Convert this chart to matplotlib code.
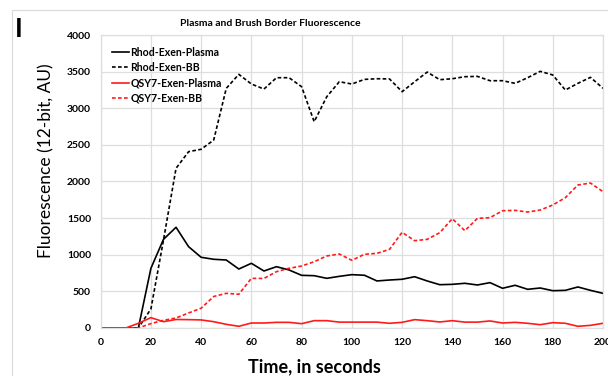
import matplotlib
matplotlib.use("Agg")
import matplotlib.pyplot as plt
from matplotlib.patches import Rectangle

# dane (co 5 s)
time_s = [0, 5, 10, 15, 20, 25, 30, 35, 40, 45, 50, 55, 60, 65, 70, 75, 80, 85, 90, 95,
          100, 105, 110, 115, 120, 125, 130, 135, 140, 145, 150, 155, 160, 165, 170, 175,
          180, 185, 190, 195, 200]

rhod_plasma = [0, 0, 0, 0, 815, 1210, 1375, 1110, 965, 938, 928, 805, 883, 778, 837, 792,
               719, 714, 678, 705, 728, 720, 642, 655, 665, 700, 642, 591, 596, 610, 587,
               619, 542, 583, 528, 546, 509, 514, 560, 514, 473]

rhod_bb = [0, 0, 0, 0, 260, 1200, 2180, 2407, 2440, 2566, 3272, 3463, 3331, 3262, 3417,
           3417, 3294, 2816, 3157, 3362, 3331, 3394, 3403, 3400, 3226, 3362, 3494, 3390,
           3403, 3431, 3435, 3376, 3376, 3340, 3417, 3504, 3454, 3249, 3340, 3422, 3272]

qsy_plasma = [0, 0, 0, 64, 141, 86, 116, 114, 110, 86, 50, 23, 68, 68, 77, 77, 59, 100,
              100, 80, 80, 80, 80, 64, 77, 114, 100, 82, 100, 80, 80, 96, 68, 77, 64, 45,
              73, 64, 23, 36, 64]

qsy_bb = [0, 0, 0, 0, 60, 105, 136, 205, 270, 430, 473, 460, 678, 676, 769, 815, 846, 905,
          983, 1010, 924, 1006, 1019, 1074, 1306, 1192, 1210, 1301, 1492, 1328, 1497, 1506,
          1601, 1606, 1583, 1610, 1679, 1779, 1952, 1979, 1861]

plt.rcParams["font.family"] = ["Lato", "DejaVu Sans"]

fig = plt.figure(figsize=(6.08, 3.76), dpi=100)
ax = fig.add_axes([0.1656, 0.1277, 0.8262, 0.7792])

# ramka obszaru wykresu (jak w Excelu)
fig.patches.append(Rectangle((12 / 608, -0.1), 1.2, 1.1 - 10 / 376,
                             transform=fig.transFigure, fill=False,
                             edgecolor="#d9d9d9", linewidth=0.8))

dash = (2.2, 1.4)
ax.plot(time_s, rhod_plasma, color="black", linewidth=1.2, label="Rhod-Exen-Plasma")
ax.plot(time_s, rhod_bb, color="black", linewidth=1.2, linestyle=(0, dash), label="Rhod-Exen-BB")
ax.plot(time_s, qsy_plasma, color="#ff1a1a", linewidth=1.2, label="QSY7-Exen-Plasma")
ax.plot(time_s, qsy_bb, color="#ff1a1a", linewidth=1.2, linestyle=(0, dash), label="QSY7-Exen-BB")

ax.set_xlim(0, 200)
ax.set_ylim(0, 4000)
ax.set_xticks(range(0, 201, 20))
ax.set_yticks(range(0, 4001, 500))
ax.grid(True, color="#dedede", linewidth=0.9)
ax.set_axisbelow(True)
for s in ax.spines.values():
    s.set_color("#dedede")
    s.set_linewidth(0.9)
ax.tick_params(length=0, labelsize=7.5, pad=7)
for lbl in ax.get_xticklabels() + ax.get_yticklabels():
    lbl.set_fontweight("bold")

ax.legend(loc="upper left", frameon=False, handlelength=1.6,
          handletextpad=0.1, labelspacing=0.42, borderaxespad=0.7,
          prop={"weight": "bold", "size": 7.6})

fig.text(270 / 608, 1 - 23 / 376, "Plasma and Brush Border Fluorescence",
         ha="center", va="center", fontsize=7.5, fontweight="bold")
fig.text(314 / 608, 1 - 367 / 376, "Time, in seconds",
         ha="center", va="center", fontsize=13, fontweight="bold")
fig.text(46 / 608, 1 - 161 / 376, "Fluorescence (12-bit, AU)", rotation=90,
         ha="center", va="center", fontsize=12.5)
fig.text(19 / 608, 1 - 29 / 376, "I", ha="center", va="center",
         fontsize=19, fontweight="bold")

fig.savefig("out.png", dpi=100)
